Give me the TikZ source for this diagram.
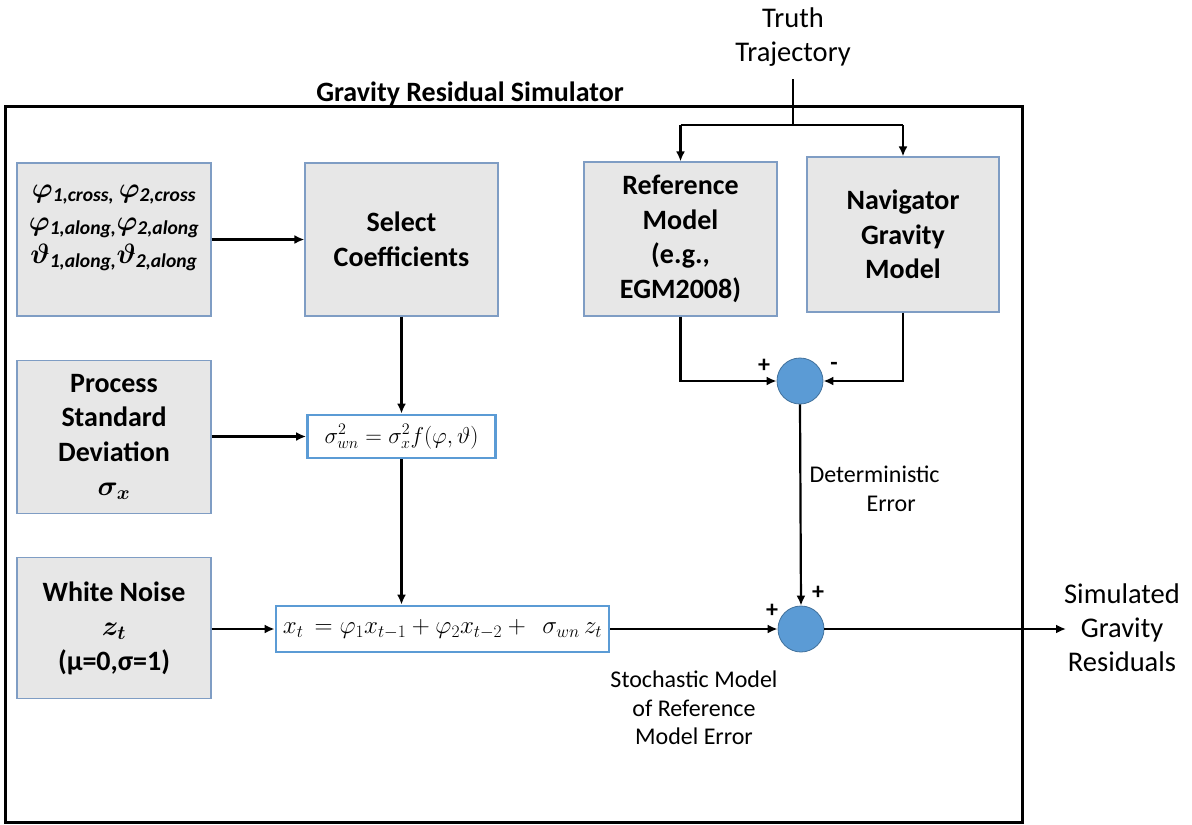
\RequirePackage{fix-cm}
\documentclass[tikz,border=0pt]{standalone}
\usepackage{amsmath}
\usepackage{bm}
\usepackage{fontspec}
\setmainfont{Carlito}
\usetikzlibrary{arrows.meta}
\definecolor{boxfill}{HTML}{E7E7E7}
\definecolor{boxline}{HTML}{7F9DC4}
\definecolor{eqline}{HTML}{5B9BD5}
\definecolor{sumfill}{HTML}{5B9BD5}
\definecolor{sumline}{HTML}{41719C}
\newcommand\bxfont{\fontsize{28}{34.5}\selectfont\bfseries}
\newcommand\psub[1]{\textbf{\textit{#1}}}
\tikzset{
  graybox/.style={draw=boxline, line width=1.2pt, fill=boxfill, align=center, font=\bxfont, inner sep=0pt},
  eqbox/.style={draw=eqline, line width=2.8pt, fill=white, inner sep=0pt},
  sumnode/.style={circle, fill=sumfill, draw=sumline, line width=0.8pt, minimum size=46pt, inner sep=0pt},
  arr/.style={-{Latex[length=10pt,width=9pt]}, line width=2.2pt},
  conn/.style={line width=2.2pt},
  lbl/.style={align=center, font=\fontsize{28.5}{34}\selectfont},
  smalllbl/.style={align=center, font=\fontsize{24}{28.5}\selectfont},
  sign/.style={font=\fontsize{24}{28}\selectfont\bfseries, inner sep=0pt}
}
\begin{document}
\begin{tikzpicture}[x=1pt,y=-1pt]
\useasboundingbox (0,0) rectangle (1192,825);
% frame
\draw[line width=3pt] (5,106) rectangle (1022,822);
\node[font=\fontsize{28}{32}\selectfont\bfseries] (title) at (470,94) {Gravity Residual Simulator};

% boxes
\node[graybox, minimum width=194pt, minimum height=153pt, font=\fontsize{28}{30}\selectfont] (param) at (114,239.5)
 {$\bm{\varphi}_{\psub{1,cross,}}\,\bm{\varphi}_{\psub{2,cross}}$\\[3pt]
  $\bm{\varphi}_{\psub{1,along,}}\bm{\varphi}_{\psub{2,along}}$\\[3pt]
  $\bm{\vartheta}_{\psub{1,along,}}\bm{\vartheta}_{\psub{2,along}}$\\[0pt]};
\node[graybox, minimum width=193pt, minimum height=153pt] (select) at (401.5,239.5) {Select\\Coefficients};
\node[graybox, minimum width=193pt, minimum height=154pt] (ref) at (680.5,239) {Reference\\Model\\(e.g.,\\EGM2008)};
\node[graybox, minimum width=192pt, minimum height=155pt] (nav) at (903,234.5) {Navigator\\Gravity\\Model};
\node[graybox, minimum width=194pt, minimum height=153pt] (proc) at (114,437) {Process\\Standard\\Deviation\\$\bm{\sigma_x}$};
\node[graybox, minimum width=194pt, minimum height=141pt] (white) at (114,628) {White Noise\\$\bm{z_t}$\\(μ=0,σ=1)};

% equation boxes
\node[eqbox, minimum width=188pt, minimum height=43pt, font=\fontsize{23}{26}\selectfont] (sig) at (401.5,436.5) {$\sigma_{wn}^2=\sigma_x^2 f(\varphi,\vartheta)$};
\node[eqbox, minimum width=333pt, minimum height=46pt, font=\fontsize{25}{28}\selectfont] (xt) at (442.5,629) {$x_t\,=\varphi_1 x_{t-1}+\varphi_2 x_{t-2}+\;\,\sigma_{wn}\,z_t$};

% summing junctions
\node[sumnode] (c1) at (800,381) {};
\node[sumnode] (c2) at (801,629) {};

% signs
\node[sign] (p1) at (764,366) {+};
\node[sign] (m1) at (834,366) {-};
\node[sign] (p2) at (772,611) {+};
\node[sign] (p3) at (818,593) {+};

% texts
\node[lbl] (truth) at (793,37) {Truth\\Trajectory};
\node[lbl] (sim) at (1122,628) {Simulated\\Gravity\\Residuals};
\node[smalllbl, align=left, anchor=west] (det) at (806,489) {Deterministic\\\hspace*{57pt}Error};
\node[smalllbl] (stoch) at (694,708) {Stochastic Model\\of Reference\\Model Error};

% coordinates
\coordinate (ttop) at (793,79);
\coordinate (tsplit) at (793,125);
\coordinate (tl) at (680.5,125);
\coordinate (tr) at (903,125);
\coordinate (outend) at (1066,629);

% connectors
\draw[arr] (param.east |- select.west) -- (select.west);
\draw[arr] (select.south) -- (sig.north);
\draw[arr] (proc.east |- sig.west) -- (sig.west);
\draw[arr] (sig.south) -- (sig.south |- xt.north);
\draw[arr] (white.east |- xt.west) -- (xt.west);
\draw[arr] (xt.east) -- (c2.west);
\draw[arr] (c2.east) -- (outend);
\draw[conn] (ttop) -- (tsplit);
\draw[conn] (tl) -- (tr);
\draw[arr] (tl) -- (ref.north);
\draw[arr] (tr) -- (nav.north);
\draw[arr] (ref.south) |- (c1.west);
\draw[arr] (nav.south) |- (c1.east);
\draw[arr] (c1.south) -- (c2.north);
\end{tikzpicture}
\end{document}
